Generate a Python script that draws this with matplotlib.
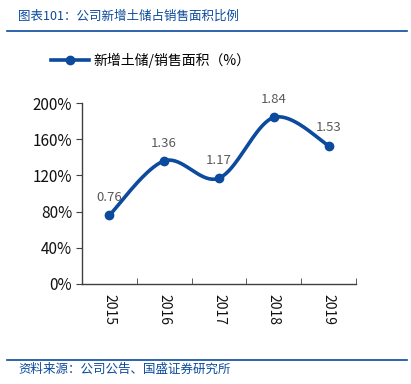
import matplotlib
matplotlib.use("Agg")
import matplotlib.pyplot as plt
import numpy as np
from matplotlib.lines import Line2D

plt.rcParams['font.family'] = ['Noto Sans CJK SC', 'DejaVu Sans']

years = ['2015', '2016', '2017', '2018', '2019']
ratio = [0.76, 1.36, 1.17, 1.84, 1.53]
yticks = [0, 0.4, 0.8, 1.2, 1.6, 2.0]
series_name = '新增土储/销售面积（%）'
title = '图表101：公司新增土储占销售面积比例'
source = '资料来源：公司公告、国盛证券研究所'

blue = '#0B4A9C'
W, H = 411, 384
fig = plt.figure(figsize=(W/100, H/100), dpi=100)
ax = fig.add_axes([82/W, 1-284/H, (356-82)/W, (284-103)/H])

x = np.arange(len(years))
y = np.array(ratio)

# smooth curve (cubic Bezier like Excel smoothing)
px = np.concatenate([[x[0]], x, [x[-1]]])
py = np.concatenate([[y[0]], y, [y[-1]]])
cx, cy = [], []
t = np.linspace(0, 1, 40)
for i in range(1, len(px)-2):
    p0 = np.array([px[i-1], py[i-1]]); p1 = np.array([px[i], py[i]])
    p2 = np.array([px[i+1], py[i+1]]); p3 = np.array([px[i+2], py[i+2]])
    b1 = p1 + (p2 - p0)/6
    b2 = p2 - (p3 - p1)/6
    pts = ((1-t)**3)[:, None]*p1 + (3*(1-t)**2*t)[:, None]*b1 + (3*(1-t)*t**2)[:, None]*b2 + (t**3)[:, None]*p2
    cx.extend(pts[:, 0]); cy.extend(pts[:, 1])
ax.plot(cx, cy, color=blue, lw=2.6, solid_capstyle='round')
ax.plot(x, y, 'o', color=blue, ms=6)

for i, v in enumerate(ratio):
    ax.annotate(f'{v:.2f}', (x[i], v), xytext=(0, 8), textcoords='offset points',
                ha='center', va='bottom', fontsize=9.5, color='#595959')

ax.set_xlim(-0.5, len(years)-0.5)
ax.set_ylim(0, 2.0)
ax.set_yticks(yticks)
ax.set_yticklabels([f'{int(round(v*100))}%' for v in yticks], fontsize=11, color='#111111')
ax.set_xticks(x)
ax.set_xticklabels(years, rotation=-90, fontsize=10, color='#111111')
ax.tick_params(axis='x', length=0, pad=7)
ax.set_xticks(np.arange(-0.5, len(years), 1), minor=True)
ax.tick_params(axis='x', which='minor', direction='in', length=4, color='#404040')
ax.tick_params(axis='y', direction='out', length=4, color='#404040', pad=3)
for s in ['top', 'right']:
    ax.spines[s].set_visible(False)
for s in ['left', 'bottom']:
    ax.spines[s].set_color('#404040')
    ax.spines[s].set_linewidth(1)

handle = Line2D([0], [0], color=blue, lw=2.6, marker='o', ms=6)
fig.legend([handle], [series_name], loc='center left', bbox_to_anchor=(38/W, 1-60/H),
           frameon=False, fontsize=10, handlelength=2.8, handletextpad=0.3)

fig.text(18/W, 1-16/H, title, fontsize=9, color=blue, style='italic', va='center', ha='left')
fig.add_artist(Line2D([7/W, 407/W], [1-31/H, 1-31/H], color=blue, lw=1.2))
fig.add_artist(Line2D([7/W, 407/W], [1-360/H, 1-360/H], color=blue, lw=1.2))
fig.text(18/W, 1-369/H, source, fontsize=9, color=blue, style='italic', va='center', ha='left')

fig.savefig('out.png', dpi=100)
